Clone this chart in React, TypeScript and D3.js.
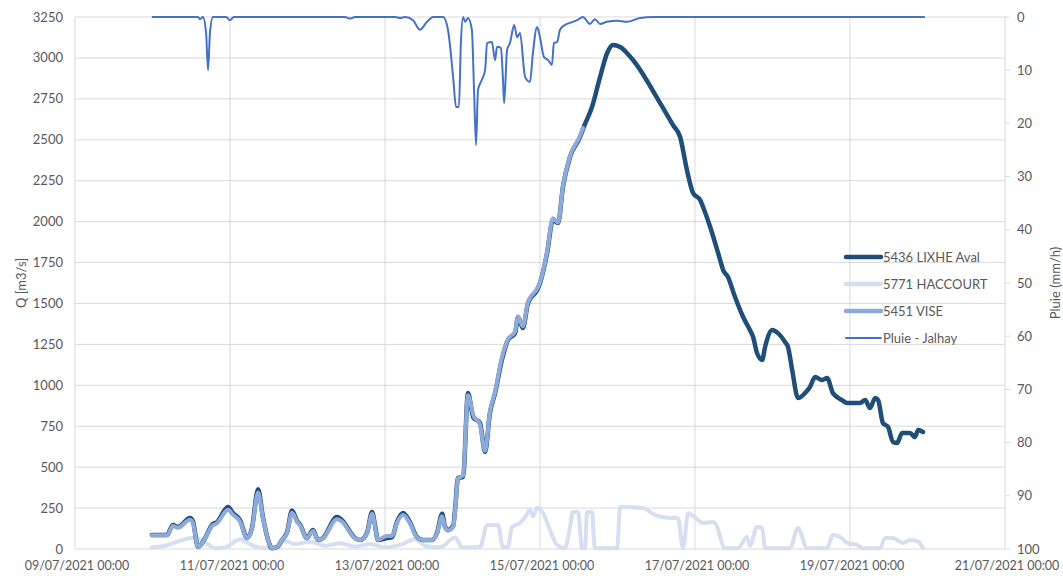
import React from "react";
import * as d3 from "d3";

// hours since 09/07/2021 00:00, value
const LIXHE: [number, number][] = [
  [23.8, 86], [28.5, 86], [30.3, 147], [31.9, 134], [35.6, 189], [36.5, 170], [38.1, 12], [40.3, 67],
  [42.4, 147], [44.0, 165], [47.4, 257], [48.9, 220], [51.1, 177], [53.3, 67], [54.8, 128], [56.7, 365],
  [58.2, 195], [59.8, 55], [61.0, 5], [62.6, 12], [64.1, 55], [65.7, 104], [67.2, 235], [68.8, 170],
  [69.7, 150], [71.8, 67], [73.7, 116], [75.3, 55], [76.8, 67], [81.1, 195], [83.0, 170], [85.2, 104],
  [86.7, 67], [88.3, 55], [90.4, 98], [92.0, 226], [92.9, 147], [93.8, 55], [96.6, 67], [98.2, 73],
  [99.7, 165], [101.6, 220], [103.7, 165], [105.9, 73], [107.8, 55], [110.6, 55], [112.1, 98], [113.7, 215],
  [114.6, 134], [115.5, 116], [117.1, 140], [117.7, 238], [118.6, 434], [120.2, 440], [121.7, 953], [123.3, 806],
  [125.4, 770], [127.0, 593], [128.5, 831], [130.1, 953], [132.2, 1155], [134.1, 1277], [136.3, 1320], [137.2, 1417],
  [138.7, 1350], [140.3, 1503], [143.1, 1582], [144.0, 1625], [146.2, 1808], [148.0, 2010], [149.6, 1991], [151.1, 2211],
  [153.3, 2395], [156.4, 2517], [157.6, 2580], [160.1, 2700], [162.6, 2883], [164.8, 3030], [166.6, 3079], [168.8, 3067],
  [172.8, 2987], [181.2, 2724], [185.2, 2590], [187.4, 2517], [189.5, 2315], [191.4, 2175], [193.6, 2132], [194.5, 2089],
  [196.7, 1967], [199.8, 1765], [200.7, 1704], [202.2, 1662], [204.4, 1539], [206.9, 1417], [209.0, 1338], [210.0, 1295],
  [211.2, 1197], [212.8, 1155], [213.7, 1234], [215.9, 1338], [217.7, 1319], [219.9, 1264], [220.8, 1234], [222.1, 1093],
  [223.9, 922], [226.1, 953], [227.6, 990], [229.2, 1051], [231.3, 1032], [232.9, 1044], [234.7, 953], [237.5, 910],
  [239.1, 892], [243.1, 892], [244.7, 910], [246.2, 861], [247.8, 922], [248.7, 910], [250.2, 770], [251.8, 745],
  [253.3, 654], [254.6, 648], [256.1, 709], [258.6, 709], [260.1, 684], [261.1, 727], [262.6, 715],
];

const VISE: [number, number][] = [
  [23.8, 84], [28.5, 84], [30.3, 140], [31.9, 130], [35.6, 178], [36.5, 160], [38.1, 12], [40.3, 65],
  [42.4, 140], [44.0, 158], [47.4, 240], [48.9, 210], [51.1, 168], [53.3, 65], [54.8, 125], [56.7, 345],
  [58.2, 190], [59.8, 55], [61.0, 5], [62.6, 12], [64.1, 55], [65.7, 100], [67.2, 222], [68.8, 165],
  [69.7, 145], [71.8, 65], [73.7, 110], [75.3, 55], [76.8, 65], [81.1, 182], [83.0, 162], [85.2, 100],
  [86.7, 65], [88.3, 55], [90.4, 95], [92.0, 215], [92.9, 140], [93.8, 55], [96.6, 80], [98.2, 80],
  [99.7, 160], [101.6, 208], [103.7, 158], [105.9, 70], [107.8, 55], [110.6, 55], [112.1, 95], [113.7, 200],
  [114.6, 130], [115.5, 112], [117.1, 135], [117.7, 230], [118.6, 430], [120.2, 450], [121.7, 940], [123.3, 820],
  [125.4, 760], [127.0, 600], [128.5, 840], [130.1, 960], [132.2, 1170], [134.1, 1280], [136.3, 1330], [137.2, 1420],
  [138.7, 1360], [140.3, 1510], [143.1, 1590], [144.0, 1630], [146.2, 1815], [148.0, 2020], [149.6, 1995], [151.1, 2215],
  [153.3, 2400], [156.4, 2525], [157.3, 2572],
];

const HACCOURT: [number, number][] = [
  [23.8, 10], [27.9, 20], [32.5, 50], [37.2, 70], [40.3, 40], [43.4, 5], [46.5, 10], [51.1, 60],
  [54.2, 30], [57.9, 5], [61.9, 10], [65.0, 50], [68.1, 30], [72.8, 45], [77.4, 20], [82.1, 35],
  [86.7, 15], [91.4, 30], [96.0, 10], [100.7, 25], [105.3, 60], [108.4, 20], [113.0, 10], [117.7, 70],
  [119.9, 10], [125.4, 10], [127.6, 147], [131.0, 147], [132.5, 12], [134.1, 12], [135.3, 134], [137.8, 159],
  [139.4, 195], [140.9, 238], [141.8, 200], [143.1, 250], [144.9, 220], [147.1, 116], [149.3, 24], [151.7, 5],
  [153.3, 134], [154.2, 226], [155.8, 226], [157.0, 5], [157.9, 5], [158.6, 226], [160.1, 226], [161.0, 5],
  [167.9, 5], [168.8, 257], [175.9, 250], [179.6, 208], [184.3, 189], [186.7, 189], [188.3, 5], [189.9, 220],
  [191.1, 208], [194.5, 159], [197.3, 165], [198.2, 159], [201.3, 5], [205.3, 5], [208.1, 73], [209.0, 20],
  [211.2, 134], [212.8, 128], [213.7, 5], [221.4, 5], [223.9, 128], [226.7, 5], [232.9, 5], [234.7, 86],
  [236.9, 73], [239.1, 37], [242.2, 25], [244.0, 5], [249.3, 5], [250.9, 67], [253.3, 67], [256.4, 37],
  [258.6, 55], [261.1, 45], [262.6, 5],
];

const PLUIE: [number, number][] = [
  [23.8, 0], [38.1, 0], [38.7, 0.4], [39.6, 0], [40.6, 3], [41.2, 10], [41.8, 3], [42.7, 0],
  [46.8, 0], [48.0, 0.6], [49.2, 0], [83.6, 0], [85.2, 0.3], [86.7, 0], [99.1, 0], [100.7, 0.2],
  [102.2, 0], [104.7, 0.6], [106.8, 2.4], [109.0, 0.9], [110.9, 0], [114.0, 0], [115.5, 2.4], [117.1, 11.3],
  [118.0, 16.9], [118.9, 16.9], [119.5, 4.9], [120.2, 0], [120.8, 0.9], [121.7, 0.2], [122.9, 2.4], [123.6, 14.3],
  [124.2, 24.1], [124.8, 13.7], [126.0, 11.8], [127.0, 10.0], [127.6, 4.9], [129.1, 4.7], [130.1, 8.1], [130.7, 5.6],
  [131.9, 5.8], [132.5, 11.3], [132.9, 16.2], [133.8, 6.2], [134.7, 4.9], [136.0, 1.5], [136.9, 3.8], [137.8, 3.0],
  [139.4, 11.3], [140.9, 12.2], [141.8, 6.8], [143.1, 1.9], [144.0, 3.8], [145.2, 7.5], [146.5, 8.1], [147.7, 9.0],
  [148.3, 4.9], [149.3, 4.7], [150.2, 2.4], [151.7, 1.5], [153.3, 1.1], [155.5, 0.6], [157.3, 0], [159.5, 1.3],
  [161.0, 0.4], [162.6, 1.3], [164.8, 0.9], [167.9, 0.7], [170.9, 0.9], [175.0, 0.2], [179.0, 0], [263.2, 0],
];

const Q_TICKS = [0, 250, 500, 750, 1000, 1250, 1500, 1750, 2000, 2250, 2500, 2750, 3000, 3250];
const RAIN_TICKS = [0, 10, 20, 30, 40, 50, 60, 70, 80, 90, 100];
const X_TICK_DAYS = [9, 11, 13, 15, 17, 19, 21];

const SERIES_NAMES = ["5436 LIXHE Aval", "5771 HACCOURT", "5451 VISE", "Pluie - Jalhay"];

const W = 1063;
const H = 576;
const M = { left: 75, right: 1005, top: 17, bottom: 549 };
const FONT = "Lato, 'Open Sans', sans-serif";
const TXT = "#595959";
const GRID = "#d9d9d9";
const C_LIXHE = "#1f4e79";
const C_HAC = "#d5dff1";
const C_VISE = "#8eaadb";
const C_PLUIE = "#4472c4";

const BASE = Date.UTC(2021, 6, 9);
const toDate = (h: number) => new Date(BASE + h * 3600e3);

export default function App() {
  const x = d3.scaleUtc().domain([new Date(Date.UTC(2021, 6, 9)), new Date(Date.UTC(2021, 6, 21))]).range([M.left, M.right]);
  const yQ = d3.scaleLinear().domain([0, 3250]).range([M.bottom, M.top]);
  const yR = d3.scaleLinear().domain([0, 100]).range([M.top, M.bottom]);

  const lineQ = d3.line<[number, number]>().x((d) => x(toDate(d[0]))).y((d) => yQ(d[1])).curve(d3.curveMonotoneX);
  const lineR = d3.line<[number, number]>().x((d) => x(toDate(d[0]))).y((d) => yR(d[1])).curve(d3.curveMonotoneX);
  const fmt = d3.utcFormat("%d/%m/%Y %H:%M");

  const legend = [
    { name: SERIES_NAMES[0], color: C_LIXHE, w: 4.5 },
    { name: SERIES_NAMES[1], color: C_HAC, w: 4.5 },
    { name: SERIES_NAMES[2], color: C_VISE, w: 4.5 },
    { name: SERIES_NAMES[3], color: C_PLUIE, w: 2 },
  ];

  return (
    <svg width={W} height={H} style={{ position: "absolute", left: 0, top: 0, background: "#fff" }} fontFamily={FONT}>
      {Q_TICKS.map((t) => (
        <line key={"g" + t} x1={M.left} x2={M.right} y1={yQ(t)} y2={yQ(t)} stroke={GRID} strokeWidth={1} />
      ))}
      {X_TICK_DAYS.map((d) => {
        const xx = x(new Date(Date.UTC(2021, 6, d)));
        return <line key={"v" + d} x1={xx} x2={xx} y1={M.top} y2={M.bottom} stroke={GRID} strokeWidth={1} />;
      })}
      {RAIN_TICKS.map((t) => (
        <line key={"rt" + t} x1={M.right} x2={M.right + 5} y1={yR(t)} y2={yR(t)} stroke={GRID} strokeWidth={1} />
      ))}
      {Q_TICKS.map((t) => (
        <text key={"ql" + t} x={63} y={yQ(t)} dy="0.35em" textAnchor="end" fontSize={13} fill={TXT}>
          {t}
        </text>
      ))}
      {RAIN_TICKS.map((t) => (
        <text key={"rl" + t} x={1017} y={yR(t)} dy="0.35em" textAnchor="start" fontSize={13} fill={TXT}>
          {t}
        </text>
      ))}
      {X_TICK_DAYS.map((d) => {
        const dt = new Date(Date.UTC(2021, 6, d));
        return (
          <text key={"xl" + d} x={x(dt) + 2} y={566} dy="0.35em" textAnchor="middle" fontSize={12.5} fill={TXT}>
            {fmt(dt)}
          </text>
        );
      })}
      <text transform={`translate(21,283) rotate(-90)`} textAnchor="middle" dy="0.35em" fontSize={13} fill={TXT}>
        Q [m3/s]
      </text>
      <text transform={`translate(1055,283) rotate(-90)`} textAnchor="middle" dy="0.35em" fontSize={13} fill={TXT}>
        Pluie (mm/h)
      </text>

      <path d={lineQ(HACCOURT) || ""} fill="none" stroke={C_HAC} strokeWidth={4} strokeLinejoin="round" strokeLinecap="round" />
      <path d={lineQ(LIXHE) || ""} fill="none" stroke={C_LIXHE} strokeWidth={4.5} strokeLinejoin="round" strokeLinecap="round" />
      <path d={lineQ(VISE) || ""} fill="none" stroke={C_VISE} strokeWidth={4} strokeLinejoin="round" strokeLinecap="round" />
      <path d={lineR(PLUIE) || ""} fill="none" stroke={C_PLUIE} strokeWidth={2} strokeLinejoin="round" />

      {legend.map((l, i) => {
        const ly = 257 + i * 27;
        return (
          <g key={l.name}>
            <line x1={846} x2={881} y1={ly} y2={ly} stroke={l.color} strokeWidth={l.w} strokeLinecap="round" />
            <text x={883} y={ly} dy="0.35em" fontSize={13} fill={TXT}>
              {l.name}
            </text>
          </g>
        );
      })}
    </svg>
  );
}
